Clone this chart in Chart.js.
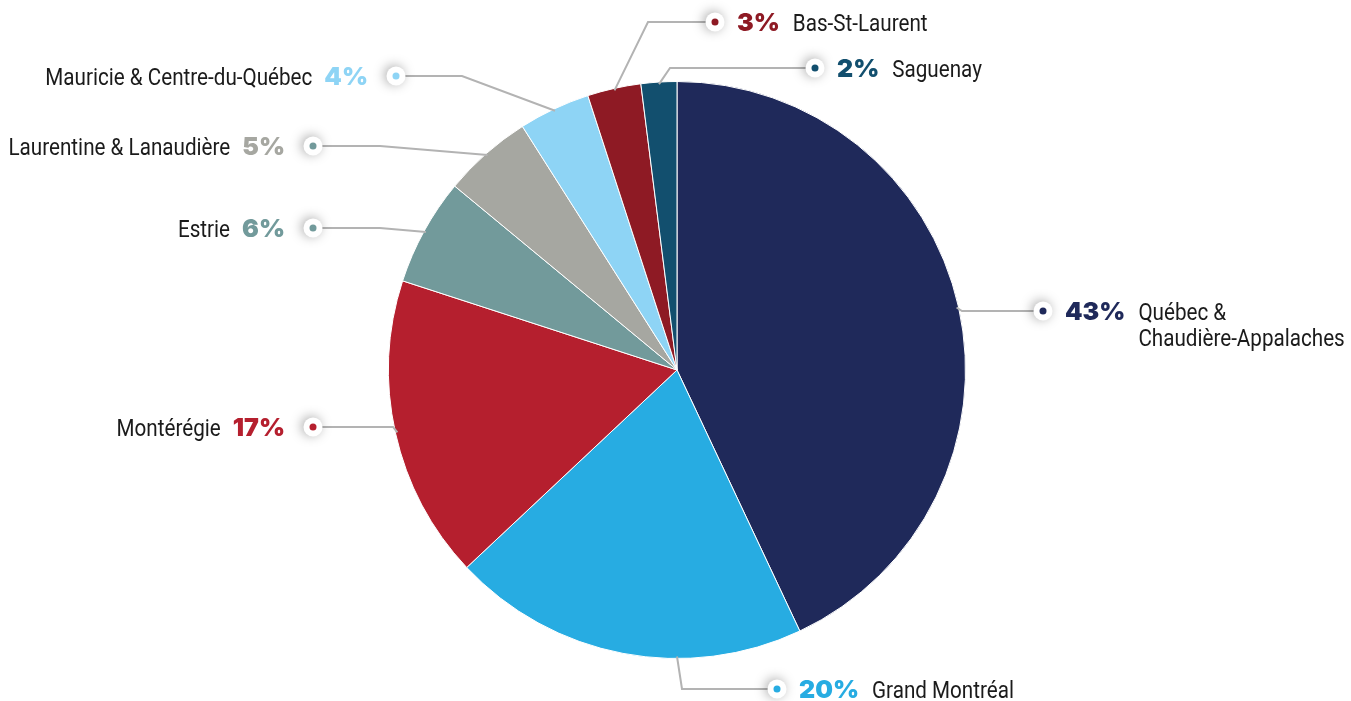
<!DOCTYPE html>
<html>
<head>
<meta charset="utf-8">
<script src="https://cdn.jsdelivr.net/npm/chart.js@4.4.0/dist/chart.umd.min.js"></script>
<style>
  html, body { margin: 0; padding: 0; background: #fff; }
  #wrap { width: 1351px; height: 701px; }
</style>
</head>
<body>
<div id="wrap"><canvas id="regionPie" width="1351" height="701"></canvas></div>
<script>
  // data
  const regions = ['Québec &\nChaudière-Appalaches', 'Grand Montréal', 'Montérégie', 'Estrie',
    'Laurentine & Lanaudière', 'Mauricie & Centre-du-Québec', 'Bas-St-Laurent', 'Saguenay'];
  const shares = [43, 20, 17, 6, 5, 4, 3, 2];
  const sliceColors = ['#1f295a', '#27ace2', '#b51f2e', '#729a9b', '#a6a7a1', '#8ed4f5', '#8e1a24', '#124f6e'];
  const pctColors = ['#1f295a', '#27ace2', '#b51f2e', '#729a9b', '#a6a7a1', '#8ed4f5', '#8e1a24', '#124f6e'];
  const dotColors = ['#1f295a', '#27ace2', '#b51f2e', '#729a9b', '#729a9b', '#8ed4f5', '#8e1a24', '#124f6e'];

  // callout layout: where the leader bends and where the dot sits, side of text
  const callouts = [
    { frac: 0.5, elbow: [962, 311], dot: [1043, 311], side: 'right' },
    { frac: 0.35, elbow: [682, 689], dot: [777, 689], side: 'right' },
    { frac: 0.5, elbow: [393, 427], dot: [313, 427], side: 'left' },
    { frac: 0.5, elbow: [380, 228], dot: [313, 228], side: 'left' },
    { frac: 0.5, elbow: [380, 146], dot: [313, 146], side: 'left' },
    { frac: 0.5, elbow: [462, 76], dot: [396, 76], side: 'left' },
    { frac: 0.5, elbow: [648, 22], dot: [715, 22], side: 'right' },
    { frac: 0.5, elbow: [670, 68], dot: [815, 68], side: 'right' }
  ];

  const nameFont = '24px Roboto, sans-serif';
  const nameSqueeze = 0.86; // condensed look
  const pctFont = '900 25px Inter, Lato, sans-serif';

  function drawName(c, text, x, y, align) {
    c.save();
    c.translate(x, y);
    c.scale(nameSqueeze, 1);
    c.font = nameFont;
    c.textAlign = align;
    c.fillStyle = '#1b1b1b';
    c.fillText(text, 0, 0);
    c.restore();
  }

  const calloutPlugin = {
    id: 'callouts',
    afterDraw(chart) {
      const c = chart.ctx;
      const arcs = chart.getDatasetMeta(0).data;

      // leader lines
      c.save();
      c.strokeStyle = '#b3b3b3';
      c.lineWidth = 2;
      arcs.forEach((arc, i) => {
        const p = arc.getProps(['x', 'y', 'startAngle', 'endAngle', 'outerRadius'], true);
        const co = callouts[i];
        const a = p.startAngle + (p.endAngle - p.startAngle) * co.frac;
        const ax = p.x + Math.cos(a) * (p.outerRadius - 2);
        const ay = p.y + Math.sin(a) * (p.outerRadius - 2);
        c.beginPath();
        c.moveTo(ax, ay);
        c.lineTo(co.elbow[0], co.elbow[1]);
        c.lineTo(co.dot[0], co.dot[1]);
        c.stroke();
      });
      c.restore();

      // dots and text
      arcs.forEach((arc, i) => {
        const co = callouts[i];
        const [dx, dy] = co.dot;
        c.save();
        c.shadowColor = 'rgba(0,0,0,0.35)';
        c.shadowBlur = 12;
        c.shadowOffsetX = -2;
        c.shadowOffsetY = -1;
        c.fillStyle = '#fff';
        c.beginPath();
        c.arc(dx, dy, 9.5, 0, Math.PI * 2);
        c.fill();
        c.restore();

        c.fillStyle = dotColors[i];
        c.beginPath();
        c.arc(dx, dy, 3.5, 0, Math.PI * 2);
        c.fill();

        const pct = shares[i] + '%';
        const lines = regions[i].split('\n');
        const base = dy + 9;
        c.textBaseline = 'alphabetic';
        c.font = pctFont;
        c.fillStyle = pctColors[i];
        const pw = c.measureText(pct).width;
        if (co.side === 'right') {
          c.textAlign = 'left';
          const px = dx + 22;
          c.fillText(pct, px, base);
          lines.forEach((ln, k) => drawName(c, ln, px + pw + 13, base + k * 26, 'left'));
        } else {
          c.textAlign = 'right';
          const px = dx - 28;
          c.fillText(pct, px, base);
          lines.forEach((ln, k) => drawName(c, ln, px - pw - 12, base + k * 26, 'right'));
        }
      });
    }
  };

  new Chart(document.getElementById('regionPie').getContext('2d'), {
    type: 'pie',
    data: {
      labels: regions,
      datasets: [{
        data: shares,
        backgroundColor: sliceColors,
        borderColor: '#ffffff',
        borderWidth: 1
      }]
    },
    options: {
      responsive: false,
      animation: false,
      layout: { padding: { left: 388, right: 385, top: 81, bottom: 42 } },
      plugins: {
        legend: { display: false },
        tooltip: { enabled: false }
      }
    },
    plugins: [calloutPlugin]
  });
</script>
</body>
</html>
